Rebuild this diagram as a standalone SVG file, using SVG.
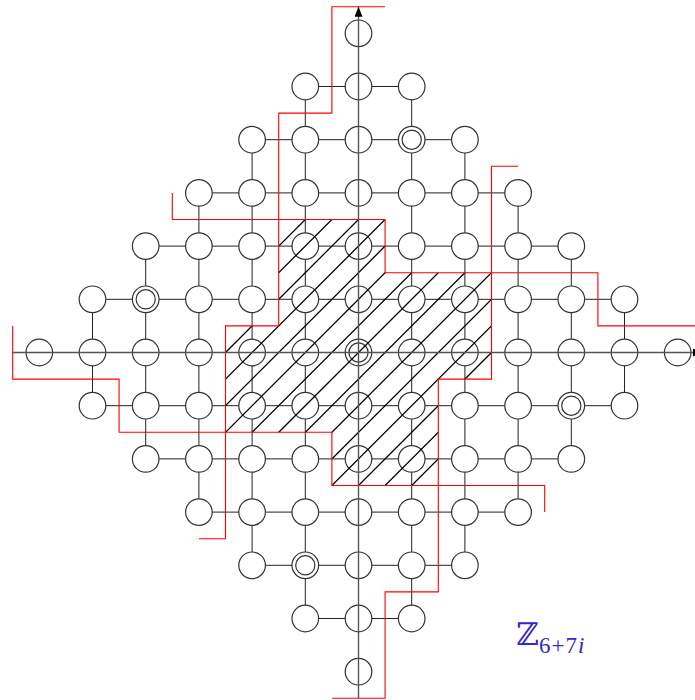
<svg xmlns="http://www.w3.org/2000/svg" width="695" height="700" viewBox="0 0 695 700">
<style>
.nd{fill:#fff;stroke:#333;stroke-width:1.2}
.in{fill:none;stroke:#333;stroke-width:1.2}
.ed{stroke:#222;stroke-width:1;fill:none}
.ax{stroke:#555;stroke-width:1.4;fill:none}
.ht{stroke:#000;stroke-width:1.3;fill:none}
.rd{stroke:#f00;stroke-width:1.1;fill:none}
.lbl{fill:#3328cc}
</style>
<defs>
<marker id="arr" markerUnits="userSpaceOnUse" markerWidth="11" markerHeight="8" refX="10" refY="4" orient="auto">
<path d="M0,0 L10,4 L0,8 z" fill="#000"/>
</marker>
<clipPath id="hc">
<polygon points="278.7,219.5 385.1,219.5 385.1,272.7 491.5,272.7 491.5,379.1 438.3,379.1 438.3,485.5 331.9,485.5 331.9,432.3 225.5,432.3 225.5,325.9 278.7,325.9"/>
</clipPath>
</defs>
<g id="connectors">
<line class="ed" x1="305.3" y1="86.5" x2="411.7" y2="86.5"/>
<line class="ed" x1="252.1" y1="139.7" x2="464.9" y2="139.7"/>
<line class="ed" x1="198.9" y1="192.9" x2="518.1" y2="192.9"/>
<line class="ed" x1="145.7" y1="246.1" x2="571.3" y2="246.1"/>
<line class="ed" x1="92.5" y1="299.3" x2="624.5" y2="299.3"/>
<line class="ed" x1="92.5" y1="405.7" x2="624.5" y2="405.7"/>
<line class="ed" x1="145.7" y1="458.9" x2="571.3" y2="458.9"/>
<line class="ed" x1="198.9" y1="512.1" x2="518.1" y2="512.1"/>
<line class="ed" x1="252.1" y1="565.3" x2="464.9" y2="565.3"/>
<line class="ed" x1="305.3" y1="618.5" x2="411.7" y2="618.5"/>
<line class="ed" x1="92.5" y1="299.3" x2="92.5" y2="405.7"/>
<line class="ed" x1="145.7" y1="246.1" x2="145.7" y2="458.9"/>
<line class="ed" x1="198.9" y1="192.9" x2="198.9" y2="512.1"/>
<line class="ed" x1="252.1" y1="139.7" x2="252.1" y2="565.3"/>
<line class="ed" x1="305.3" y1="86.5" x2="305.3" y2="618.5"/>
<line class="ed" x1="411.7" y1="86.5" x2="411.7" y2="618.5"/>
<line class="ed" x1="464.9" y1="139.7" x2="464.9" y2="565.3"/>
<line class="ed" x1="518.1" y1="192.9" x2="518.1" y2="512.1"/>
<line class="ed" x1="571.3" y1="246.1" x2="571.3" y2="458.9"/>
<line class="ed" x1="624.5" y1="299.3" x2="624.5" y2="405.7"/>
</g>
<g id="nodes">
<g id="v0_6"><circle class="nd" cx="358.5" cy="33.3" r="13.3"/></g>
<g id="v1_5"><circle class="nd" cx="305.3" cy="86.5" r="13.3"/></g>
<g id="v1_6"><circle class="nd" cx="358.5" cy="86.5" r="13.3"/></g>
<g id="v1_7"><circle class="nd" cx="411.7" cy="86.5" r="13.3"/></g>
<g id="v2_4"><circle class="nd" cx="252.1" cy="139.7" r="13.3"/></g>
<g id="v2_5"><circle class="nd" cx="305.3" cy="139.7" r="13.3"/></g>
<g id="v2_6"><circle class="nd" cx="358.5" cy="139.7" r="13.3"/></g>
<g id="v2_7"><circle class="nd" cx="411.7" cy="139.7" r="13.3"/><circle class="in" cx="411.7" cy="139.7" r="9.6"/></g>
<g id="v2_8"><circle class="nd" cx="464.9" cy="139.7" r="13.3"/></g>
<g id="v3_3"><circle class="nd" cx="198.9" cy="192.9" r="13.3"/></g>
<g id="v3_4"><circle class="nd" cx="252.1" cy="192.9" r="13.3"/></g>
<g id="v3_5"><circle class="nd" cx="305.3" cy="192.9" r="13.3"/></g>
<g id="v3_6"><circle class="nd" cx="358.5" cy="192.9" r="13.3"/></g>
<g id="v3_7"><circle class="nd" cx="411.7" cy="192.9" r="13.3"/></g>
<g id="v3_8"><circle class="nd" cx="464.9" cy="192.9" r="13.3"/></g>
<g id="v3_9"><circle class="nd" cx="518.1" cy="192.9" r="13.3"/></g>
<g id="v4_2"><circle class="nd" cx="145.7" cy="246.1" r="13.3"/></g>
<g id="v4_3"><circle class="nd" cx="198.9" cy="246.1" r="13.3"/></g>
<g id="v4_4"><circle class="nd" cx="252.1" cy="246.1" r="13.3"/></g>
<g id="v4_5"><circle class="nd" cx="305.3" cy="246.1" r="13.3"/></g>
<g id="v4_6"><circle class="nd" cx="358.5" cy="246.1" r="13.3"/></g>
<g id="v4_7"><circle class="nd" cx="411.7" cy="246.1" r="13.3"/></g>
<g id="v4_8"><circle class="nd" cx="464.9" cy="246.1" r="13.3"/></g>
<g id="v4_9"><circle class="nd" cx="518.1" cy="246.1" r="13.3"/></g>
<g id="v4_10"><circle class="nd" cx="571.3" cy="246.1" r="13.3"/></g>
<g id="v5_1"><circle class="nd" cx="92.5" cy="299.3" r="13.3"/></g>
<g id="v5_2"><circle class="nd" cx="145.7" cy="299.3" r="13.3"/><circle class="in" cx="145.7" cy="299.3" r="9.6"/></g>
<g id="v5_3"><circle class="nd" cx="198.9" cy="299.3" r="13.3"/></g>
<g id="v5_4"><circle class="nd" cx="252.1" cy="299.3" r="13.3"/></g>
<g id="v5_5"><circle class="nd" cx="305.3" cy="299.3" r="13.3"/></g>
<g id="v5_6"><circle class="nd" cx="358.5" cy="299.3" r="13.3"/></g>
<g id="v5_7"><circle class="nd" cx="411.7" cy="299.3" r="13.3"/></g>
<g id="v5_8"><circle class="nd" cx="464.9" cy="299.3" r="13.3"/></g>
<g id="v5_9"><circle class="nd" cx="518.1" cy="299.3" r="13.3"/></g>
<g id="v5_10"><circle class="nd" cx="571.3" cy="299.3" r="13.3"/></g>
<g id="v5_11"><circle class="nd" cx="624.5" cy="299.3" r="13.3"/></g>
<g id="v6_0"><circle class="nd" cx="39.3" cy="352.5" r="13.3"/></g>
<g id="v6_1"><circle class="nd" cx="92.5" cy="352.5" r="13.3"/></g>
<g id="v6_2"><circle class="nd" cx="145.7" cy="352.5" r="13.3"/></g>
<g id="v6_3"><circle class="nd" cx="198.9" cy="352.5" r="13.3"/></g>
<g id="v6_4"><circle class="nd" cx="252.1" cy="352.5" r="13.3"/></g>
<g id="v6_5"><circle class="nd" cx="305.3" cy="352.5" r="13.3"/></g>
<g id="v6_6"><circle class="nd" cx="358.5" cy="352.5" r="13.3"/><circle class="in" cx="358.5" cy="352.5" r="9.6"/></g>
<g id="v6_7"><circle class="nd" cx="411.7" cy="352.5" r="13.3"/></g>
<g id="v6_8"><circle class="nd" cx="464.9" cy="352.5" r="13.3"/></g>
<g id="v6_9"><circle class="nd" cx="518.1" cy="352.5" r="13.3"/></g>
<g id="v6_10"><circle class="nd" cx="571.3" cy="352.5" r="13.3"/></g>
<g id="v6_11"><circle class="nd" cx="624.5" cy="352.5" r="13.3"/></g>
<g id="v6_12"><circle class="nd" cx="677.7" cy="352.5" r="13.3"/></g>
<g id="v7_1"><circle class="nd" cx="92.5" cy="405.7" r="13.3"/></g>
<g id="v7_2"><circle class="nd" cx="145.7" cy="405.7" r="13.3"/></g>
<g id="v7_3"><circle class="nd" cx="198.9" cy="405.7" r="13.3"/></g>
<g id="v7_4"><circle class="nd" cx="252.1" cy="405.7" r="13.3"/></g>
<g id="v7_5"><circle class="nd" cx="305.3" cy="405.7" r="13.3"/></g>
<g id="v7_6"><circle class="nd" cx="358.5" cy="405.7" r="13.3"/></g>
<g id="v7_7"><circle class="nd" cx="411.7" cy="405.7" r="13.3"/></g>
<g id="v7_8"><circle class="nd" cx="464.9" cy="405.7" r="13.3"/></g>
<g id="v7_9"><circle class="nd" cx="518.1" cy="405.7" r="13.3"/></g>
<g id="v7_10"><circle class="nd" cx="571.3" cy="405.7" r="13.3"/><circle class="in" cx="571.3" cy="405.7" r="9.6"/></g>
<g id="v7_11"><circle class="nd" cx="624.5" cy="405.7" r="13.3"/></g>
<g id="v8_2"><circle class="nd" cx="145.7" cy="458.9" r="13.3"/></g>
<g id="v8_3"><circle class="nd" cx="198.9" cy="458.9" r="13.3"/></g>
<g id="v8_4"><circle class="nd" cx="252.1" cy="458.9" r="13.3"/></g>
<g id="v8_5"><circle class="nd" cx="305.3" cy="458.9" r="13.3"/></g>
<g id="v8_6"><circle class="nd" cx="358.5" cy="458.9" r="13.3"/></g>
<g id="v8_7"><circle class="nd" cx="411.7" cy="458.9" r="13.3"/></g>
<g id="v8_8"><circle class="nd" cx="464.9" cy="458.9" r="13.3"/></g>
<g id="v8_9"><circle class="nd" cx="518.1" cy="458.9" r="13.3"/></g>
<g id="v8_10"><circle class="nd" cx="571.3" cy="458.9" r="13.3"/></g>
<g id="v9_3"><circle class="nd" cx="198.9" cy="512.1" r="13.3"/></g>
<g id="v9_4"><circle class="nd" cx="252.1" cy="512.1" r="13.3"/></g>
<g id="v9_5"><circle class="nd" cx="305.3" cy="512.1" r="13.3"/></g>
<g id="v9_6"><circle class="nd" cx="358.5" cy="512.1" r="13.3"/></g>
<g id="v9_7"><circle class="nd" cx="411.7" cy="512.1" r="13.3"/></g>
<g id="v9_8"><circle class="nd" cx="464.9" cy="512.1" r="13.3"/></g>
<g id="v9_9"><circle class="nd" cx="518.1" cy="512.1" r="13.3"/></g>
<g id="v10_4"><circle class="nd" cx="252.1" cy="565.3" r="13.3"/></g>
<g id="v10_5"><circle class="nd" cx="305.3" cy="565.3" r="13.3"/><circle class="in" cx="305.3" cy="565.3" r="9.6"/></g>
<g id="v10_6"><circle class="nd" cx="358.5" cy="565.3" r="13.3"/></g>
<g id="v10_7"><circle class="nd" cx="411.7" cy="565.3" r="13.3"/></g>
<g id="v10_8"><circle class="nd" cx="464.9" cy="565.3" r="13.3"/></g>
<g id="v11_5"><circle class="nd" cx="305.3" cy="618.5" r="13.3"/></g>
<g id="v11_6"><circle class="nd" cx="358.5" cy="618.5" r="13.3"/></g>
<g id="v11_7"><circle class="nd" cx="411.7" cy="618.5" r="13.3"/></g>
<g id="v12_6"><circle class="nd" cx="358.5" cy="671.7" r="13.3"/></g>
</g>
<g id="hatch" clip-path="url(#hc)">
<path class="ht" d="M-40.5,565.3L385.1,139.7M-13.9,565.3L411.7,139.7M12.7,565.3L438.3,139.7M39.3,565.3L464.9,139.7M65.9,565.3L491.5,139.7M92.5,565.3L518.1,139.7M119.1,565.3L544.7,139.7M145.7,565.3L571.3,139.7M172.3,565.3L597.9,139.7M198.9,565.3L624.5,139.7M225.5,565.3L651.1,139.7M252.1,565.3L677.7,139.7M278.7,565.3L704.3,139.7M305.3,565.3L730.9,139.7M331.9,565.3L757.5,139.7"/>
</g>
<g id="axes">
<line class="ax" x1="12.7" y1="352.5" x2="703" y2="352.5" marker-end="url(#arr)"/>
<line class="ax" x1="358.5" y1="698.3" x2="358.5" y2="6.7" marker-end="url(#arr)"/>
</g>
<g id="boundaries">
<polyline class="rd" points="385.1,6.7 331.9,6.7 331.9,113.1 278.7,113.1 278.7,325.9 225.5,325.9 225.5,538.7 198.9,538.7"/>
<polyline class="rd" points="172.3,192.9 172.3,219.5 385.1,219.5 385.1,272.7 597.9,272.7 597.9,325.9 695,325.9"/>
<polyline class="rd" points="518.1,166.3 491.5,166.3 491.5,379.1 438.3,379.1 438.3,591.9 385.1,591.9 385.1,698.3 331.9,698.3"/>
<polyline class="rd" points="12.7,325.9 12.7,379.1 119.1,379.1 119.1,432.3 331.9,432.3 331.9,485.5 544.7,485.5 544.7,512.1"/>
</g>
<g id="label">
<text class="lbl" x="516" y="645" font-family="DejaVu Serif, DejaVu Sans, serif" font-size="31">ℤ<tspan x="539" y="653" font-family="Liberation Serif, DejaVu Serif, serif" font-size="23" letter-spacing="1">6+7<tspan font-style="italic">i</tspan></tspan></text>
</g>
</svg>
